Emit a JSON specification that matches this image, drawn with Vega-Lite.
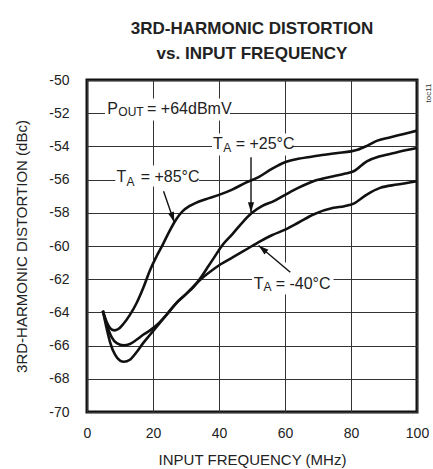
{
  "$schema": "https://vega.github.io/schema/vega-lite/v6.json",
  "width": 330,
  "height": 332,
  "autosize": "none",
  "padding": {"left": 87, "top": 80, "right": 16, "bottom": 57},
  "background": "white",
  "config": {
    "font": "Liberation Sans",
    "view": {"stroke": "#111", "strokeWidth": 3},
    "axis": {
      "grid": true, "gridColor": "#333", "gridWidth": 1,
      "domain": false, "ticks": false, "tickSize": 0,
      "labelFont": "Liberation Sans", "labelFontSize": 14, "labelColor": "#222",
      "labelFlush": false, "labelOverlap": false, "labelBound": false,
      "titleFont": "Liberation Sans", "titleFontSize": 15, "titleFontWeight": "normal", "titleColor": "#222"
    }
  },
  "title": {
    "text": ["3RD-HARMONIC DISTORTION", "vs. INPUT FREQUENCY"],
    "font": "Liberation Sans", "fontSize": 17, "fontWeight": "bold",
    "lineHeight": 25, "anchor": "middle", "offset": 10, "color": "#222"
  },
  "datasets": {
    "curves": [
      {"f": 4.8, "db": -63.9, "s": "+85"}, {"f": 6, "db": -64.6, "s": "+85"}, {"f": 7, "db": -64.95, "s": "+85"}, {"f": 8.2, "db": -65.08, "s": "+85"}, {"f": 9.5, "db": -65.0, "s": "+85"}, {"f": 11, "db": -64.7, "s": "+85"}, {"f": 13, "db": -64.15, "s": "+85"}, {"f": 15, "db": -63.45, "s": "+85"}, {"f": 17, "db": -62.55, "s": "+85"}, {"f": 19, "db": -61.5, "s": "+85"}, {"f": 21, "db": -60.65, "s": "+85"}, {"f": 23, "db": -59.9, "s": "+85"}, {"f": 25, "db": -59.1, "s": "+85"}, {"f": 27, "db": -58.4, "s": "+85"}, {"f": 29, "db": -57.9, "s": "+85"}, {"f": 31, "db": -57.6, "s": "+85"}, {"f": 33, "db": -57.4, "s": "+85"}, {"f": 36, "db": -57.18, "s": "+85"}, {"f": 40, "db": -56.92, "s": "+85"}, {"f": 44, "db": -56.6, "s": "+85"}, {"f": 48, "db": -56.2, "s": "+85"}, {"f": 52, "db": -55.85, "s": "+85"}, {"f": 56, "db": -55.35, "s": "+85"}, {"f": 60, "db": -54.95, "s": "+85"}, {"f": 64, "db": -54.75, "s": "+85"}, {"f": 68, "db": -54.62, "s": "+85"}, {"f": 72, "db": -54.5, "s": "+85"}, {"f": 76, "db": -54.4, "s": "+85"}, {"f": 80, "db": -54.3, "s": "+85"}, {"f": 82, "db": -54.2, "s": "+85"}, {"f": 85, "db": -53.95, "s": "+85"}, {"f": 88, "db": -53.65, "s": "+85"}, {"f": 92, "db": -53.45, "s": "+85"}, {"f": 96, "db": -53.25, "s": "+85"}, {"f": 100, "db": -53.05, "s": "+85"},
      {"f": 4.8, "db": -63.9, "s": "+25"}, {"f": 6, "db": -65.0, "s": "+25"}, {"f": 7, "db": -65.8, "s": "+25"}, {"f": 8.5, "db": -66.55, "s": "+25"}, {"f": 10, "db": -66.9, "s": "+25"}, {"f": 11.2, "db": -66.97, "s": "+25"}, {"f": 13, "db": -66.85, "s": "+25"}, {"f": 15, "db": -66.4, "s": "+25"}, {"f": 17, "db": -65.85, "s": "+25"}, {"f": 19.3, "db": -65.3, "s": "+25"}, {"f": 22, "db": -64.65, "s": "+25"}, {"f": 24.5, "db": -64.05, "s": "+25"}, {"f": 27, "db": -63.45, "s": "+25"}, {"f": 30, "db": -62.9, "s": "+25"}, {"f": 32.4, "db": -62.45, "s": "+25"}, {"f": 34.5, "db": -61.9, "s": "+25"}, {"f": 36.5, "db": -61.3, "s": "+25"}, {"f": 38.5, "db": -60.7, "s": "+25"}, {"f": 41, "db": -59.95, "s": "+25"}, {"f": 44, "db": -59.3, "s": "+25"}, {"f": 47, "db": -58.6, "s": "+25"}, {"f": 50, "db": -58.0, "s": "+25"}, {"f": 53, "db": -57.6, "s": "+25"}, {"f": 56.6, "db": -57.3, "s": "+25"}, {"f": 60.2, "db": -56.9, "s": "+25"}, {"f": 64, "db": -56.5, "s": "+25"}, {"f": 68.6, "db": -56.1, "s": "+25"}, {"f": 74.7, "db": -55.8, "s": "+25"}, {"f": 78, "db": -55.65, "s": "+25"}, {"f": 80.8, "db": -55.5, "s": "+25"}, {"f": 84.8, "db": -54.9, "s": "+25"}, {"f": 88.8, "db": -54.6, "s": "+25"}, {"f": 94, "db": -54.35, "s": "+25"}, {"f": 100, "db": -54.1, "s": "+25"},
      {"f": 4.8, "db": -63.9, "s": "-40"}, {"f": 6, "db": -64.75, "s": "-40"}, {"f": 7.5, "db": -65.5, "s": "-40"}, {"f": 9, "db": -65.85, "s": "-40"}, {"f": 11.1, "db": -65.98, "s": "-40"}, {"f": 13, "db": -65.9, "s": "-40"}, {"f": 15, "db": -65.65, "s": "-40"}, {"f": 17, "db": -65.35, "s": "-40"}, {"f": 19.3, "db": -65.05, "s": "-40"}, {"f": 22, "db": -64.6, "s": "-40"}, {"f": 24.5, "db": -64.05, "s": "-40"}, {"f": 27, "db": -63.45, "s": "-40"}, {"f": 30, "db": -62.9, "s": "-40"}, {"f": 32.4, "db": -62.4, "s": "-40"}, {"f": 34.5, "db": -62.0, "s": "-40"}, {"f": 37, "db": -61.6, "s": "-40"}, {"f": 40.5, "db": -61.1, "s": "-40"}, {"f": 44, "db": -60.7, "s": "-40"}, {"f": 47.5, "db": -60.3, "s": "-40"}, {"f": 52.6, "db": -59.7, "s": "-40"}, {"f": 56, "db": -59.35, "s": "-40"}, {"f": 60.2, "db": -59.0, "s": "-40"}, {"f": 64, "db": -58.6, "s": "-40"}, {"f": 68.6, "db": -58.1, "s": "-40"}, {"f": 74.7, "db": -57.7, "s": "-40"}, {"f": 78, "db": -57.6, "s": "-40"}, {"f": 80.8, "db": -57.45, "s": "-40"}, {"f": 84.8, "db": -56.9, "s": "-40"}, {"f": 88.8, "db": -56.5, "s": "-40"}, {"f": 94, "db": -56.3, "s": "-40"}, {"f": 100, "db": -56.1, "s": "-40"}
    ],
    "boxes": [
      {"f": 5.45, "f2": 43.3, "db": -51.11, "db2": -52.44},
      {"f": 8.58, "f2": 34.0, "db": -55.15, "db2": -56.42},
      {"f": 37.9, "f2": 62.4, "db": -53.22, "db2": -54.55},
      {"f": 50.0, "f2": 74.7, "db": -60.99, "db2": -62.92}
    ],
    "arrows": [
      {"a": "+85", "f": 23.2, "db": -56.7, "f2": 26.45, "db2": -58.57},
      {"a": "+25", "f": 49.7, "db": -54.65, "f2": 49.7, "db2": -57.98},
      {"a": "-40", "f": 61.6, "db": -61.58, "f2": 52.0, "db2": -59.97}
    ],
    "heads": [
      {"a": "+85", "f": 26.45, "db": -58.57},
      {"a": "+25", "f": 49.7, "db": -57.98},
      {"a": "-40", "f": 52.0, "db": -59.97}
    ],
    "maintext": [
      {"t": "P", "f": 6.1, "db": -52.04},
      {"t": "= +64dBmV", "f": 18.2, "db": -52.04},
      {"t": "T", "f": 8.95, "db": -56.16},
      {"t": "= +85°C", "f": 16.25, "db": -56.16},
      {"t": "T", "f": 38.2, "db": -54.14},
      {"t": "= +25°C", "f": 45.05, "db": -54.14},
      {"t": "T", "f": 50.55, "db": -62.58},
      {"t": "= -40°C", "f": 57.16, "db": -62.58}
    ],
    "subtext": [
      {"t": "OUT", "f": 9.5, "db": -52.18},
      {"t": "A", "f": 12.0, "db": -56.36},
      {"t": "A", "f": 41.3, "db": -54.35},
      {"t": "A", "f": 53.45, "db": -62.72}
    ],
    "note": [
      {"t": "toc11", "f": 103.6, "db": -50.78}
    ]
  },
  "encoding": {
    "x": {"field": "f", "type": "quantitative", "scale": {"domain": [0, 100], "nice": false, "zero": false},
          "axis": {"values": [0, 20, 40, 60, 80, 100], "tickCount": 30, "title": "INPUT FREQUENCY (MHz)", "labelPadding": 14, "titlePadding": 12}},
    "y": {"field": "db", "type": "quantitative", "scale": {"domain": [-70, -50], "nice": false, "zero": false},
          "axis": {"values": [-70, -68, -66, -64, -62, -60, -58, -56, -54, -52, -50], "tickCount": 30, "title": "3RD-HARMONIC DISTORTION (dBc)", "labelPadding": 18, "titlePadding": 19,
                   "labelExpr": "datum.value < 0 ? '-' + abs(datum.value) : '' + datum.value"}}
  },
  "layer": [
    {
      "data": {"name": "boxes"},
      "mark": {"type": "rect", "fill": "white", "stroke": null},
      "encoding": {"x2": {"field": "f2"}, "y2": {"field": "db2"}}
    },
    {
      "data": {"name": "curves"},
      "mark": {"type": "line", "color": "#111", "strokeWidth": 2.6, "interpolate": "monotone"},
      "encoding": {"detail": {"field": "s"}}
    },
    {
      "data": {"name": "arrows"},
      "mark": {"type": "rule", "color": "#111", "strokeWidth": 1.4},
      "encoding": {"x2": {"field": "f2"}, "y2": {"field": "db2"}}
    },
    {
      "data": {"name": "heads"},
      "transform": [{"filter": "datum.a === '+85'"}],
      "mark": {"type": "point", "shape": "M0,0L0.3,1L-0.3,1Z", "filled": true, "color": "#111", "opacity": 1, "size": 420, "angle": 161},
      "encoding": {}
    },
    {
      "data": {"name": "heads"},
      "transform": [{"filter": "datum.a === '+25'"}],
      "mark": {"type": "point", "shape": "M0,0L0.3,1L-0.3,1Z", "filled": true, "color": "#111", "opacity": 1, "size": 420, "angle": 180},
      "encoding": {}
    },
    {
      "data": {"name": "heads"},
      "transform": [{"filter": "datum.a === '-40'"}],
      "mark": {"type": "point", "shape": "M0,0L0.3,1L-0.3,1Z", "filled": true, "color": "#111", "opacity": 1, "size": 420, "angle": 310},
      "encoding": {}
    },
    {
      "data": {"name": "maintext"},
      "mark": {"type": "text", "align": "left", "baseline": "alphabetic", "font": "Liberation Sans", "fontSize": 16, "color": "#222"},
      "encoding": {"text": {"field": "t"}}
    },
    {
      "data": {"name": "subtext"},
      "mark": {"type": "text", "align": "left", "baseline": "alphabetic", "font": "Liberation Sans", "fontSize": 12, "color": "#222"},
      "encoding": {"text": {"field": "t"}}
    },
    {
      "data": {"name": "note"},
      "mark": {"type": "text", "align": "center", "baseline": "middle", "angle": 270, "font": "Liberation Sans", "fontSize": 8, "color": "#333"},
      "encoding": {"text": {"field": "t"}}
    }
  ]
}
